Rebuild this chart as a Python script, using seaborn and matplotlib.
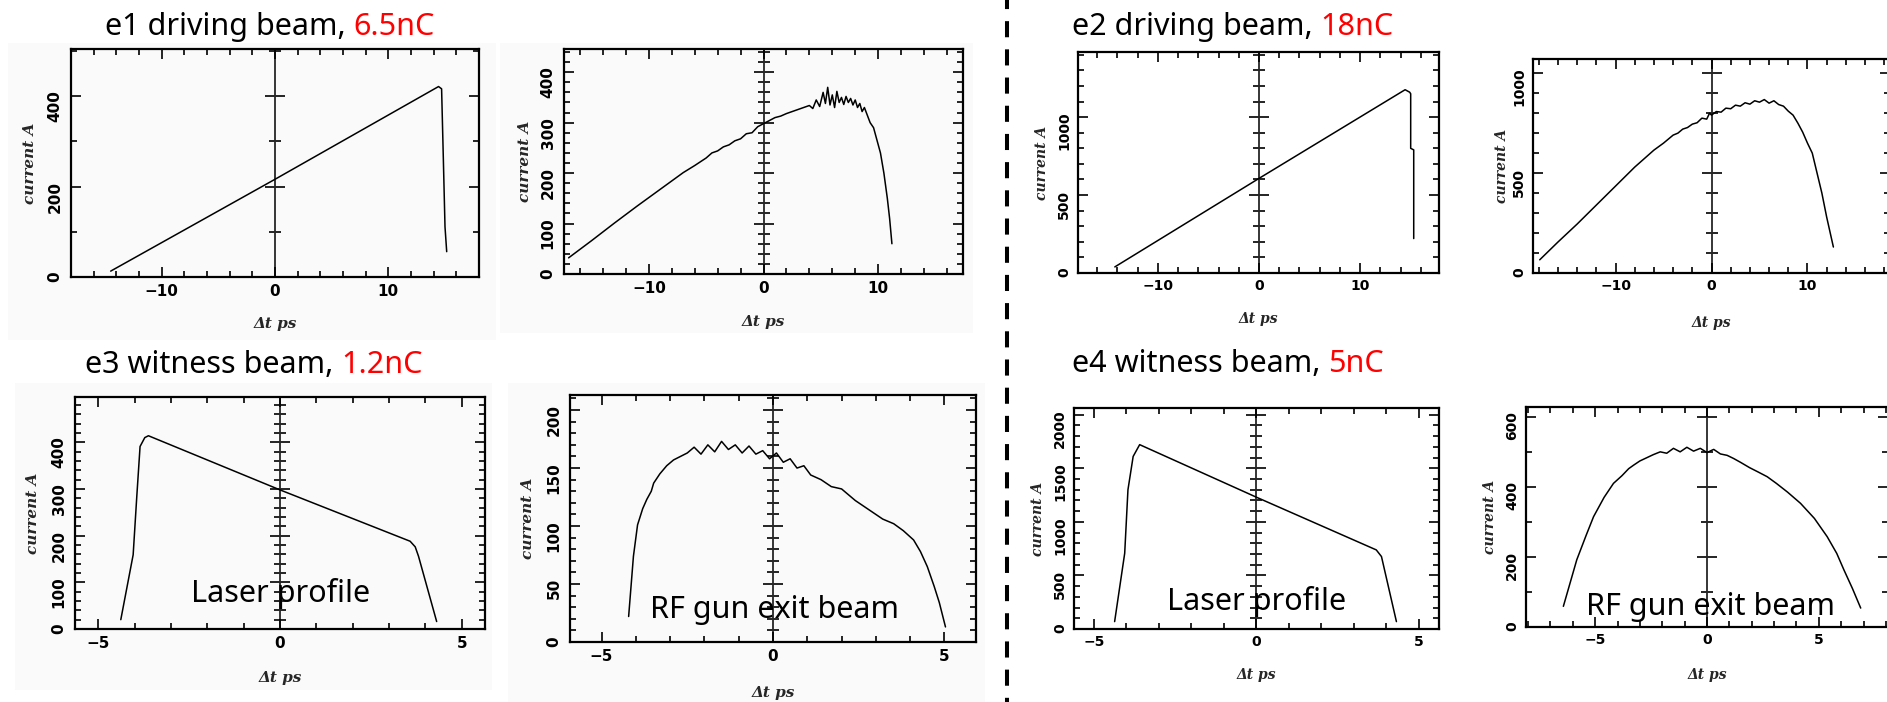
import matplotlib
matplotlib.use("Agg")
import matplotlib.pyplot as plt
import seaborn as sns
import pandas as pd
from matplotlib.ticker import MultipleLocator
from matplotlib.patches import Rectangle
from matplotlib.lines import Line2D

# ---------------- data ----------------
# e1 driving beam (6.5 nC): laser profile
e1_laser_t = [-14.5, 0.0, 14.43, 14.7, 14.85, 15.0, 15.15]
e1_laser_i = [13, 216, 421, 416, 265, 111, 56]
# e1 driving beam: RF gun exit beam
e1_gun_t = [-17.0, -15.0, -13.0, -11.0, -9.0, -7.0, -6.0, -5.0, -4.5, -4.0, -3.5, -3.0,
            -2.5, -2.0, -1.5, -1.0, -0.5, 0.0, 0.5, 1.0, 1.5, 2.0, 2.5, 3.0, 3.5, 4.0,
            4.3, 4.6, 4.9, 5.2, 5.4, 5.6, 5.8, 6.0, 6.2, 6.4, 6.6, 6.8, 7.0, 7.2, 7.4,
            7.6, 7.8, 8.0, 8.2, 8.4, 8.6, 8.8, 9.0, 9.3, 9.6, 9.9, 10.2, 10.5, 10.8, 11.0, 11.2]
e1_gun_i = [32, 66, 101, 135, 168, 201, 215, 230, 240, 244, 252, 256, 264, 268, 278, 280,
            292, 298, 304, 310, 313, 318, 322, 326, 330, 334, 328, 345, 332, 360, 338, 370,
            335, 355, 330, 362, 340, 350, 336, 352, 340, 348, 335, 345, 330, 338, 322, 330,
            318, 300, 290, 265, 240, 200, 150, 110, 60]

# e2 driving beam (18 nC)
e2_laser_t = [-14.26, 0.0, 14.45, 14.9, 15.0, 15.0, 15.3, 15.3]
e2_laser_i = [39, 607, 1176, 1160, 1150, 800, 790, 221]
e2_gun_t = [-17.9, -16.0, -14.0, -12.0, -10.0, -8.0, -6.0, -5.0, -4.0, -3.5, -3.0, -2.5,
            -2.0, -1.5, -1.0, -0.5, -0.2, 0.0, 0.5, 1.0, 1.5, 2.0, 2.5, 3.0, 3.5, 4.0, 4.5,
            5.0, 5.5, 6.0, 6.5, 7.0, 7.5, 8.0, 8.5, 9.0, 9.5, 10.0, 10.5, 11.0, 11.5, 12.0, 12.7]
e2_gun_i = [66, 155, 245, 340, 435, 530, 615, 650, 690, 700, 720, 728, 745, 752, 775, 770,
            800, 790, 808, 805, 825, 822, 840, 835, 852, 845, 862, 855, 868, 850, 862, 843,
            835, 810, 790, 750, 705, 650, 600, 500, 400, 280, 130]

# e3 witness beam (1.2 nC)
e3_laser_t = [-4.38, -4.04, -3.94, -3.85, -3.72, -3.62, 0.0, 3.58, 3.72, 3.81, 4.31]
e3_laser_i = [20, 159, 284, 391, 410, 414, 298, 188, 176, 156, 16]
e3_gun_t = [-4.21, -4.07, -3.95, -3.8, -3.68, -3.55, -3.48, -3.3, -3.1, -2.9, -2.7, -2.5,
            -2.3, -2.1, -1.9, -1.7, -1.5, -1.3, -1.1, -0.9, -0.7, -0.5, -0.3, -0.1, 0.1,
            0.3, 0.5, 0.7, 0.9, 1.1, 1.4, 1.7, 2.0, 2.4, 2.8, 3.2, 3.52, 3.8, 4.1, 4.3,
            4.5, 4.7, 4.85, 5.03]
e3_gun_i = [22, 74, 101, 115, 123, 130, 137, 145, 152, 157, 160, 163, 168, 162, 170, 164,
            173, 166, 170, 163, 169, 162, 165, 158, 163, 155, 158, 150, 152, 144, 140, 134,
            132, 122, 114, 106, 102, 96, 88, 78, 65, 48, 34, 13]

# e4 witness beam (5 nC)
e4_laser_t = [-4.36, -4.05, -3.95, -3.79, -3.59, 0.0, 3.69, 3.85, 4.31]
e4_laser_i = [69, 707, 1299, 1610, 1720, 1230, 738, 676, 69]
e4_gun_t = [-6.42, -5.82, -5.4, -5.07, -4.6, -4.18, -3.8, -3.5, -3.28, -3.0, -2.7, -2.4,
            -2.09, -1.8, -1.5, -1.2, -0.9, -0.6, -0.3, 0.0, 0.3, 0.6, 0.9, 1.19, 1.5, 1.9,
            2.3, 2.69, 3.1, 3.6, 4.18, 4.8, 5.37, 5.8, 6.12, 6.5, 6.87]
e4_gun_i = [59, 192, 262, 315, 370, 410, 432, 452, 462, 474, 483, 492, 500, 496, 510, 500,
            513, 502, 510, 498, 507, 494, 490, 481, 470, 455, 442, 429, 410, 385, 353, 310,
            258, 210, 163, 110, 54]

titles_black = ["e1 driving beam, ", "e2 driving beam, ", "e3 witness beam, ", "e4 witness beam, "]
titles_red = ["6.5nC", "18nC", "1.2nC", "5nC"]
overlay_laser = "Laser profile"
overlay_gun = "RF gun exit beam"
xlabel_text = "Δt ps"
ylabel_text = "current A"

# ---------------- figure ----------------
sns.set_style("white")
plt.rcParams['font.family'] = ['Noto Sans', 'DejaVu Sans']

W, H = 1887, 702
fig = plt.figure(figsize=(W / 100, H / 100), dpi=100)

# light grey backgrounds of the pasted plot images (left half)
for (x0, y0, x1, y1) in [(8, 43, 496, 340), (500, 43, 973, 333),
                         (15, 383, 492, 690), (508, 383, 985, 702)]:
    fig.add_artist(Rectangle((x0 / W, 1 - y1 / H), (x1 - x0) / W, (y1 - y0) / H,
                             transform=fig.transFigure, facecolor='#fafafa',
                             edgecolor='none', zorder=-5))

panels = [
    dict(box=(71, 49, 479, 277), xlim=(-18, 18), ylim=(0, 504), xm=(10, 2), ym=(200, 100),
         t=e1_laser_t, i=e1_laser_i, fs=11, ydx=41, xdy=47),
    dict(box=(564, 49, 963, 274), xlim=(-17.4, 17.4), ylim=(0, 446), xm=(10, 2), ym=(100, 20),
         t=e1_gun_t, i=e1_gun_i, fs=11, ydx=39, xdy=48),
    dict(box=(1078, 52, 1439, 273), xlim=(-17.9, 17.8), ylim=(0, 1418), xm=(10, 2), ym=(500, 100),
         t=e2_laser_t, i=e2_laser_i, fs=10, ydx=36, xdy=46),
    dict(box=(1533, 59, 1890, 273), xlim=(-18.6, 18.6), ylim=(0, 1071), xm=(10, 2), ym=(500, 100),
         t=e2_gun_t, i=e2_gun_i, fs=10, ydx=31, xdy=50),
    dict(box=(75, 397, 485, 629), xlim=(-5.64, 5.64), ylim=(0, 497), xm=(5, 1), ym=(100, 20),
         t=e3_laser_t, i=e3_laser_i, fs=11, ydx=42, xdy=49),
    dict(box=(570, 395, 976, 642), xlim=(-5.92, 5.92), ylim=(0, 213), xm=(5, 1), ym=(50, 10),
         t=e3_gun_t, i=e3_gun_i, fs=11, ydx=42, xdy=51),
    dict(box=(1074, 408, 1439, 629), xlim=(-5.61, 5.62), ylim=(0, 2062), xm=(5, 1), ym=(500, 100),
         t=e4_laser_t, i=e4_laser_i, fs=10, ydx=36, xdy=46),
    dict(box=(1526, 407, 1888, 627), xlim=(-8.09, 8.09), ylim=(0, 628), xm=(5, 1), ym=(200, 100),
         t=e4_gun_t, i=e4_gun_i, fs=10, ydx=36, xdy=48),
]

tick_font = dict(family='DejaVu Sans', weight='bold')
label_font = dict(family='DejaVu Serif', weight='bold', style='italic')

for p in panels:
    l, t, r, b = p['box']
    ax = fig.add_axes([l / W, 1 - b / H, (r - l) / W, (b - t) / H])
    ax.set_facecolor('none')
    df = pd.DataFrame({'t': p['t'], 'i': p['i']})
    sns.lineplot(data=df, x='t', y='i', ax=ax, color='black', linewidth=1.1,
                 estimator=None, sort=False)
    ax.set_xlim(*p['xlim'])
    ax.set_ylim(*p['ylim'])
    ax.xaxis.set_major_locator(MultipleLocator(p['xm'][0]))
    ax.xaxis.set_minor_locator(MultipleLocator(p['xm'][1]))
    ax.yaxis.set_major_locator(MultipleLocator(p['ym'][0]))
    ax.yaxis.set_minor_locator(MultipleLocator(p['ym'][1]))
    ax.tick_params(which='both', direction='in', top=True, right=True,
                   bottom=True, left=True, colors='black', width=1.2)
    ax.tick_params(which='major', length=7)
    ax.tick_params(which='minor', length=4)
    big = p['fs'] >= 11
    ax.tick_params(axis='x', which='major', pad=5 if big else 4.5, labelsize=p['fs'])
    ax.tick_params(axis='y', which='major', pad=6 if big else 5,
                   labelsize=p['fs'], labelrotation=90)
    for lab in ax.get_xticklabels() + ax.get_yticklabels():
        lab.set_fontfamily(tick_font['family'])
        lab.set_fontweight(tick_font['weight'])
    for s in ax.spines.values():
        s.set_linewidth(1.6)
        s.set_color('black')
    # central axis at t = 0 with crossing ticks
    x0, x1 = p['xlim']
    loc = (0 - x0) / (x1 - x0)
    sec = ax.secondary_yaxis(loc)
    sec.yaxis.set_major_locator(MultipleLocator(p['ym'][0]))
    sec.yaxis.set_minor_locator(MultipleLocator(p['ym'][1]))
    sec.tick_params(axis='y', which='both', direction='inout', labelleft=False,
                    labelright=False, width=1.2, colors='black')
    sec.tick_params(axis='y', which='major', length=14)
    sec.tick_params(axis='y', which='minor', length=8)
    for s in sec.spines.values():
        s.set_linewidth(1.3)
    # axis labels
    w_px, h_px = r - l, b - t
    lsize = 11 if big else 10
    ax.set_xlabel(xlabel_text, fontsize=lsize, va='center', **label_font)
    ax.set_ylabel(ylabel_text, fontsize=lsize, va='center', **label_font)
    ax.xaxis.set_label_coords(0.5, -p['xdy'] / h_px)
    ax.yaxis.set_label_coords(-p['ydx'] / w_px, 0.5)

# titles (black part + red charge)
renderer = fig.canvas.get_renderer()
title_pos = [(105, 35), (1072, 35), (85, 373), (1072, 372)]
for (x, y), tb, tr in zip(title_pos, titles_black, titles_red):
    tt = fig.text(x / W, 1 - y / H, tb, fontsize=22, color='black', va='baseline', ha='left')
    bb = tt.get_window_extent(renderer=renderer)
    fig.text(bb.x1 / W, 1 - y / H, tr, fontsize=22, color='#ff0000', va='baseline', ha='left')

# overlay annotations
for (cx, by), txt in zip([(281, 602), (774, 618), (1257, 610), (1710, 615)],
                         [overlay_laser, overlay_gun, overlay_laser, overlay_gun]):
    fig.text(cx / W, 1 - by / H, txt, fontsize=22, color='black', ha='center', va='baseline')

# dashed divider
fig.add_artist(Line2D([1007.3 / W, 1007.3 / W], [1, 0], transform=fig.transFigure,
                      color='black', linewidth=2.9, linestyle=(1.75, (4, 3))))

fig.savefig('out.png', dpi=100)
